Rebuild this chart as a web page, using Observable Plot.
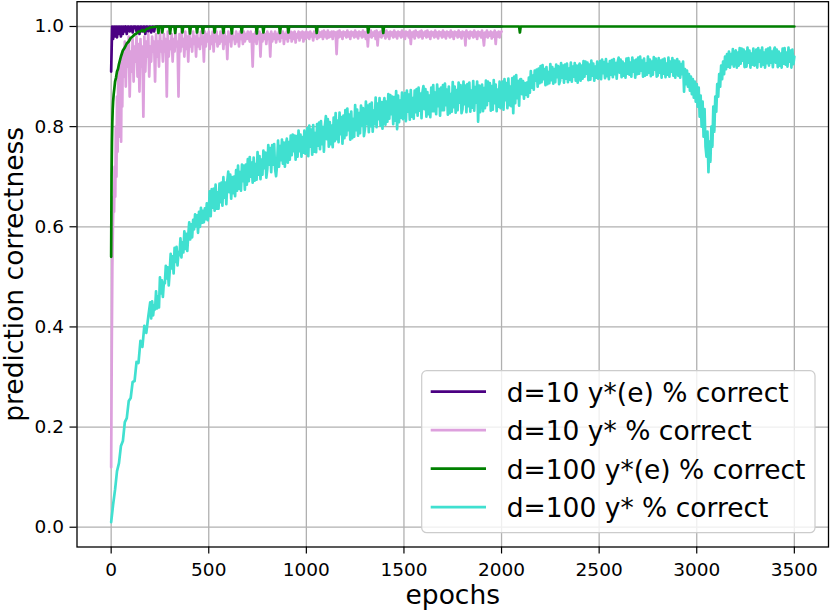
<!DOCTYPE html>
<html><head><meta charset="utf-8">
<script src="https://cdn.jsdelivr.net/npm/d3@7"></script>
<script src="https://cdn.jsdelivr.net/npm/@observablehq/plot@0.6"></script>
<style>body{margin:0;background:#fff;} #chart{width:830px;height:612px;}</style>
</head><body><div id="chart"></div>
<script>
const xTicks = [0, 500, 1000, 1500, 2000, 2500, 3000, 3500];
const yTicks = [0, 0.2, 0.4, 0.6, 0.8, 1.0];
const seriesNames = ["d=10 y*(e) % correct", "d=10 y* % correct", "d=100 y*(e) % correct", "d=100 y* % correct"];
const seriesColors = ["indigo", "plum", "green", "turquoise"];

// d=10 y*(e): epochs 0..230 step 5, then 2000
const purpleEpochs = [0,5,10,15,20,25,30,35,40,45,50,55,60,65,70,75,80,85,90,95,100,105,110,115,120,125,130,135,140,145,150,155,160,165,170,175,180,185,190,195,200,205,210,215,220,225,230,2000];
const purpleValues = [.91,1,.975,1,.98,1,.978,1,.985,1,.98,1,.985,1,.99,1,.985,1,1,.99,1,1,.988,1,1,1,.99,1,1,.985,1,1,.99,1,1,.985,1,1,.99,1,1,.988,1,1,.99,1,1,1];

// d=10 y*: early epochs, then every 5 epochs 60..2000
const pinkEarlyEpochs = [0,3,6,9,12,15,18,21,24,27,30,33,36,39,42,45,48,51,54,57];
const pinkEarlyValues = [.12,.35,.52,.60,.66,.63,.72,.66,.80,.70,.86,.75,.90,.78,.92,.80,.93,.77,.94,.84];
const pinkMidValues = [
.95,.90,.97,.88,.96,.92,.98,.86,.95,.91,.975,.89,.96,.93,.98,.90,.965,.87,.975,.92,
.96,.82,.98,.91,.97,.94,.985,.90,.96,.93,.98,.95,.97,.89,.985,.94,.97,.92,.99,.95,
.97,.93,.985,.95,.975,.86,.99,.94,.97,.955,.985,.93,.975,.95,.99,.96,.97,.86,.985,.95,
.99,.96,.975,.94,.99,.955,.98,.93,.99,.96,.975,.95,.99,.965,.98,.94,.99,.96,.975,.955,
.99,.965,.98,.93,.99,.96,.985,.97,.99,.955,.98,.965,.99,.95,.985,.97,.99,.96,.98,.965,
.99,.97,.985,.955,.99,.965,.98,.935,.99,.97,.985,.96,.99,.975,.98,.965,.99,.97,.985,.96,
.99,.975,.985,.965,.99,.97,.985,.975,.99];
const pinkLateValues = [
.97,.99,.975,.92,.985,.97,.99,.965,.985,.975,.99,.94,.985,.97,.99,.975,.985,.965,.99,.975,
.985,.94,.99,.97,.985,.975,.99,.968,.985,.975,.99,.97,.985,.978,.99,.965,.985,.975,.99,.97,
.985,.978,.99,.97,.988,.975,.99,.968,.985,.978,.99,.972,.988,.978,.99,.97,.988,.975,.99,.978,
.988,.975,.99,.98,.985,.972,.99,.98,.988,.975,.992,.978,.988,.98,.99,.975,.992,.98,.988,.976,
.992,.978,.988,.98,.99,.975,.99,.982,.988,.945,.99,.978,.992,.98,.988,.975,.99,.982,.988,.978,
.992,.98,.988,.975,.99,.982,.988,.978,.992,.98,.988,.976,.99,.982,.988,.978,.992,.98,.988,.975,
.99,.96,.988,.98,.992,.978,.988,.982,.99,.975,.992,.962,.988,.98,.99,.978,.992,.982,.988,.976,
.992,.98,.988,.975,.99,.982,.988,.978,.992,.98,.988,.976,.99,.982,.988,.978,.992,.98,.988,.975,
.99,.982,.988,.978,.992,.965,.988,.98,.99,.976,.992,.982,.988,.978,.99,.98,.992,.976,.988,.982,
.99,.978,.992,.98,.988,.975,.99,.982,.988,.978,.992,.98,.988,.976,.99,.982,.988,.978,.992,.98,
.988,.976,.99,.982,.988,.978,.992,.98,.988,.975,.99,.982,.988,.978,.992,.98,.988,.976,.99,.982,
.988,.962,.992,.98,.988,.976,.99,.982,.988,.978,.992,.98,.988,.975,.99,.982,.988,.978,.992,.98,
.962,.988,.98,.992,.978,.988,.982,.99,.976,.988,.98,.992,.965,.988,.98,.99,.978,.988,.99];

// d=100 y*(e)
const greenEpochs = [0,2,4,6,8,10,13,16,20,25,30,35,40,50,60,70,80,90,100,110,120,130,140,150,160,170,180,190,200,
 238,242,246, 258,262,266, 298,302,306, 324,328,332, 361,365,369, 400,404,408, 436,440,444, 466,470,474,
 526,530,534, 571,575,579, 614,618,622, 665,669,673, 742,746,750, 776,780,784, 861,865,869, 904,908,912,
 1049,1053,1057, 1313,1317,1321, 1390,1394,1398, 2090,2094,2098, 3500];
const greenValues = [.54,.70,.77,.81,.835,.85,.865,.875,.89,.898,.91,.915,.925,.94,.952,.958,.966,.97,.977,.98,.984,.986,.99,.99,.993,.99,.995,.996,.998,
 1,.987,1, 1,.988,1, 1,.986,1, 1,.987,1, 1,.988,1, 1,.986,1, 1,.988,1, 1,.987,1,
 1,.988,1, 1,.987,1, 1,.986,1, 1,.988,1, 1,.986,1, 1,.988,1, 1,.987,1, 1,.988,1,
 1,.987,1, 1,.988,1, 1,.987,1, 1,.988,1, 1];

// d=100 y*: every 10 epochs from 0 to 190, then every 5 epochs from 200 to 3500
const turqEarlyValues = [.010,.045,.075,.112,.128,.162,.172,.210,.218,.252,.258,.290,.292,.330,.328,.372,.360,.402,.388,.420];
const turqValues = [
.449,.417,.451,.423,.443,.435,.471,.437,.461,.439,.499,.467,.493,.460,.489,.487,.522,.497,.519,.483,
.511,.546,.517,.541,.507,.558,.530,.560,.523,.550,.543,.577,.539,.569,.549,.591,.556,.586,.552,.583,
.609,.575,.605,.579,.614,.595,.625,.601,.623,.588,.630,.600,.638,.608,.632,.609,.637,.615,.647,.613,
.632,.671,.621,.675,.638,.676,.632,.684,.636,.669,.636,.686,.649,.688,.642,.699,.658,.688,.645,.691,
.710,.669,.704,.656,.699,.667,.700,.661,.713,.672,.722,.676,.709,.672,.724,.691,.722,.674,.724,.684,
.735,.691,.739,.700,.728,.688,.738,.692,.725,.694,.749,.704,.741,.695,.734,.704,.752,.717,.748,.698,
.715,.763,.724,.757,.709,.763,.724,.765,.715,.701,.724,.772,.720,.761,.733,.774,.726,.768,.720,.763,
.776,.728,.769,.734,.782,.743,.784,.751,.782,.734,.781,.740,.792,.751,.784,.740,.779,.748,.792,.746,
.753,.797,.741,.802,.760,.794,.744,.803,.750,.787,.749,.805,.762,.808,.755,.811,.765,.799,.750,.802,
.821,.775,.815,.760,.809,.765,.802,.759,.818,.771,.827,.775,.812,.769,.828,.785,.819,.766,.822,.777,
.833,.783,.836,.793,.824,.774,.830,.777,.815,.780,.843,.793,.834,.782,.827,.787,.842,.802,.837,.781,
.795,.850,.805,.842,.789,.845,.801,.848,.790,.832,.805,.858,.799,.846,.815,.857,.802,.849,.796,.845,
.857,.804,.850,.810,.865,.816,.863,.825,.860,.805,.859,.812,.871,.795,.862,.809,.852,.818,.868,.815,
.823,.867,.811,.872,.830,.864,.814,.873,.820,.857,.816,.872,.829,.875,.822,.878,.832,.866,.817,.869,
.881,.835,.875,.820,.869,.825,.862,.819,.878,.831,.883,.831,.868,.825,.884,.841,.875,.822,.878,.833,
.883,.833,.886,.843,.874,.824,.880,.827,.865,.830,.889,.839,.880,.828,.873,.833,.888,.848,.883,.827,
.835,.890,.845,.882,.829,.885,.841,.888,.830,.872,.838,.891,.832,.879,.848,.890,.810,.882,.829,.878,
.884,.831,.877,.837,.892,.843,.890,.852,.887,.832,.881,.834,.893,.847,.884,.831,.874,.840,.890,.837,
.846,.890,.834,.895,.853,.887,.837,.896,.843,.880,.841,.897,.827,.900,.847,.903,.857,.891,.842,.894,
.895,.865,.891,.856,.887,.864,.888,.860,.898,.868,.911,.878,.902,.874,.912,.892,.914,.880,.916,.887,
.921,.889,.923,.895,.915,.883,.919,.885,.909,.887,.925,.893,.919,.886,.915,.889,.924,.899,.921,.885,
.892,.927,.898,.922,.888,.924,.896,.926,.889,.916,.894,.928,.890,.920,.900,.927,.892,.922,.888,.919,
.926,.892,.922,.896,.931,.900,.930,.906,.928,.893,.924,.894,.932,.902,.926,.892,.920,.898,.930,.896,
.903,.931,.895,.934,.907,.929,.897,.935,.901,.925,.895,.931,.904,.933,.899,.935,.905,.927,.896,.929,
.938,.908,.934,.899,.930,.902,.926,.898,.936,.906,.937,.904,.928,.900,.938,.910,.932,.898,.934,.905,
.938,.906,.940,.912,.932,.900,.936,.902,.926,.904,.940,.908,.934,.901,.930,.904,.939,.914,.936,.900,
.902,.937,.908,.932,.898,.934,.906,.936,.899,.926,.904,.938,.900,.930,.910,.937,.902,.932,.898,.929,
.935,.902,.930,.898,.925,.905,.930,.870,.915,.885,.912,.880,.905,.872,.900,.865,.895,.858,.890,.850,
.885,.840,.878,.820,.862,.800,.850,.780,.835,.760,.740,.790,.709,.770,.730,.800,.760,.840,.790,.860,
.830,.885,.860,.905,.880,.922,.895,.930,.905,.940,.915,.945,.920,.950,.918,.945,.925,.955,.920,.948,
.952,.918,.948,.922,.957,.926,.956,.932,.954,.919,.950,.920,.958,.928,.952,.918,.946,.924,.956,.922,
.926,.954,.918,.957,.930,.952,.920,.958,.924,.948,.918,.954,.927,.956,.922,.958,.928,.950,.919,.952,
.958,.928,.954,.919,.950,.922,.946,.918,.956,.926,.957,.924,.948,.920,.958,.930,.952,.918,.954,.925,
.940];

const rows = [];
function addSeries(name, epochs, values) {
  values.forEach((v, i) => rows.push({series: name, epoch: epochs[i], value: v}));
}
addSeries(seriesNames[0], purpleEpochs, purpleValues);
addSeries(seriesNames[1],
  pinkEarlyEpochs.concat(d3.range(60, 701, 5), d3.range(710, 2001, 5)),
  pinkEarlyValues.concat(pinkMidValues, pinkLateValues));
addSeries(seriesNames[2], greenEpochs, greenValues);
addSeries(seriesNames[3], d3.range(0, 200, 10).concat(d3.range(200, 3501, 5)), turqEarlyValues.concat(turqValues));

const W = 830, H = 612;
const mL = 76.5, mR = 2, mT = 1.2, mB = 65.5;
const labelSize = 26.5, tickSize = 18.5;

const plot = Plot.plot({
  width: W, height: H,
  marginLeft: mL, marginRight: mR, marginTop: mT, marginBottom: mB,
  style: {fontFamily: "DejaVu Sans", fontSize: tickSize + "px", color: "black", background: "white", overflow: "visible"},
  x: {domain: [-175, 3675]},
  y: {domain: [-0.0395, 1.0495]},
  color: {domain: seriesNames, range: seriesColors},
  marks: [
    Plot.gridX(xTicks, {stroke: "#b0b0b0", strokeOpacity: 1, strokeWidth: 1.3}),
    Plot.gridY(yTicks, {stroke: "#b0b0b0", strokeOpacity: 1, strokeWidth: 1.3}),
    Plot.line(rows, {x: "epoch", y: "value", z: "series", stroke: "series", strokeWidth: 2.7, strokeLinejoin: "round", clip: true}),
    Plot.axisX(xTicks, {tickSize: 7, tickPadding: 8.5, fontSize: tickSize, label: null, tickFormat: d => String(d), strokeWidth: 1.2}),
    Plot.axisY(yTicks, {tickSize: 7, tickPadding: 6, fontSize: tickSize, label: null, tickFormat: d3.format(".1f"), strokeWidth: 1.2}),
    Plot.frame({stroke: "black", strokeWidth: 1.3}),
    Plot.text(["epochs"], {text: d => d, frameAnchor: "bottom", lineAnchor: "middle", textAnchor: "middle", dy: 49, fontSize: labelSize}),
    Plot.text(["prediction correctness"], {text: d => d, frameAnchor: "left", lineAnchor: "middle", textAnchor: "middle", rotate: -90, dx: -62, fontSize: labelSize})
  ]
});
document.getElementById("chart").appendChild(plot);

// legend inside the axes, lower right
const svg = d3.select(plot);
const lg = svg.append("g").attr("font-family", "DejaVu Sans").attr("font-size", labelSize).attr("text-anchor", "start");
lg.append("rect").attr("x", 421.7).attr("y", 370.7).attr("width", 393.3).attr("height", 162)
  .attr("rx", 5).attr("fill", "white").attr("fill-opacity", 0.8).attr("stroke", "#cccccc").attr("stroke-width", 1.2);
seriesNames.forEach((name, i) => {
  const cy = 391.7 + i * 38.5;
  lg.append("line").attr("x1", 430.7).attr("x2", 486).attr("y1", cy).attr("y2", cy)
    .attr("stroke", seriesColors[i]).attr("stroke-width", 2.7);
  lg.append("text").attr("x", 506.7).attr("y", cy).attr("dy", "0.38em").attr("fill", "black").text(name);
});
</script>
</body></html>
